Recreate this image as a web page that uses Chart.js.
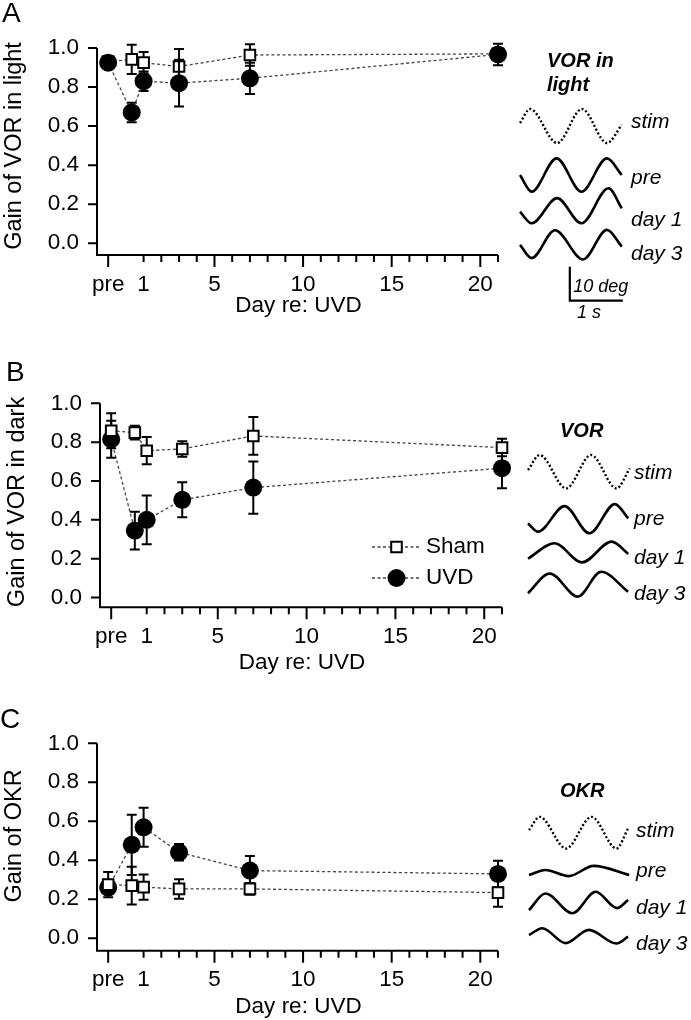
<!DOCTYPE html>
<html>
<head>
<meta charset="utf-8">
<script src="https://cdn.jsdelivr.net/npm/chart.js@4.4.1/dist/chart.umd.min.js"></script>
<style>
  body { margin: 0; background: #fff; }
  #page { position: relative; width: 691px; height: 1020px; overflow: hidden;
    font-family: "Liberation Sans", Arial, Helvetica, sans-serif; }
  canvas { position: absolute; }
  .txt { position: absolute; line-height: 1; white-space: nowrap; color: #000; }
</style>
</head>
<body>
<div id="page"></div>
<script>
// days re: UVD ("pre" is plotted at day -1)
const days = [-1, 0.33, 1, 3, 7, 21]
const dayTicks = [-1, 1, 2, 3, 4, 5, 6, 7, 8, 9, 10, 11, 12, 13, 14, 15, 16, 17, 18, 19, 20, 21]
const dayMajorTicks = [-1, 5, 10, 15, 20]
const dayTickLabels = { "-1": "pre", 1: "1", 5: "5", 10: "10", 15: "15", 20: "20" }
const gainTicks = [0, 0.2, 0.4, 0.6, 0.8, 1.0]

// A: VOR in light
const lightUVD = [0.925, 0.67, 0.83, 0.82, 0.845, 0.967]
const lightUVDErr = [0.02, 0.05, 0.05, 0.12, 0.08, 0.055]
const lightSham = [0.93, 0.942, 0.925, 0.905, 0.964, 0.97]
const lightShamErr = [0.02, 0.075, 0.055, 0.09, 0.055, 0.03]

// B: VOR in dark
const darkUVD = [0.815, 0.345, 0.40, 0.503, 0.566, 0.666]
const darkUVDErr = [0.095, 0.097, 0.125, 0.09, 0.135, 0.103]
const darkSham = [0.859, 0.849, 0.756, 0.765, 0.832, 0.772]
const darkShamErr = [0.09, 0.035, 0.07, 0.04, 0.097, 0.045]

// C: OKR
const okrUVD = [0.26, 0.479, 0.569, 0.441, 0.347, 0.33]
const okrUVDErr = [0.03, 0.155, 0.1, 0.042, 0.075, 0.068]
const okrSham = [0.275, 0.27, 0.262, 0.253, 0.253, 0.234]
const okrShamErr = [0.065, 0.097, 0.065, 0.05, 0.03, 0.072]

// example traces, [time (s), position (deg)] read at start, peaks, troughs, end
const traceNames = ["stim", "pre", "day 1", "day 3"]
const lightStim = [[0, 0.9], [0.19, 5.0], [0.70, -5.0], [1.17, 5.0], [1.64, -5.0], [1.92, 0.3]]
const lightPre = [[0, 0], [0.22, -4.9], [0.69, 4.9], [1.16, -4.9], [1.64, 4.9], [1.92, 0]]
const lightDay1 = [[0, -1.4], [0.22, -4.8], [0.70, 2.6], [1.16, -4.8], [1.67, 5.5], [1.92, -0.4]]
const lightDay3 = [[0, -0.1], [0.22, -4.0], [0.66, 4.2], [1.19, -4.4], [1.64, 4.3], [1.92, -0.6]]
const darkStim = [[0, 0.5], [0.22, 4.9], [0.72, -4.9], [1.19, 4.9], [1.67, -4.9], [1.92, 1.0]]
const darkPre = [[0, -1.4], [0.19, -3.8], [0.69, 3.7], [1.16, -4.3], [1.64, 4.3], [1.89, 0.1]]
const darkDay1 = [[0, -1.8], [0.5, 2.7], [1.02, -2.9], [1.58, 3.2], [1.89, -0.4]]
const darkDay3 = [[0, -2.7], [0.41, 3.1], [0.94, -3.7], [1.38, 3.6], [1.89, -2.3]]
const okrStim = [[0, 0.7], [0.2, 4.6], [0.7, -4.7], [1.18, 4.6], [1.65, -4.7], [1.87, 1.2]]
const okrPre = [[0, -1.2], [0.31, 0.3], [0.75, -1.5], [1.22, 1.5], [1.89, -1.2]]
const okrDay1 = [[0, -2.4], [0.31, 2.5], [0.82, -3.3], [1.26, 3.0], [1.66, -1.8], [1.87, 0.6]]
const okrDay3 = [[0, 0.3], [0.25, 2.3], [0.69, -2.1], [1.13, 1.8], [1.65, -2.2], [1.87, -0.2]]
// calibration: 10 deg, 1 s
const scaleBar = [[0, 10], [0, 0], [1, 0]]

const family = '"Liberation Sans", Arial, Helvetica, sans-serif'
Chart.defaults.font.family = family
const page = document.getElementById("page")
const W = 520, H = 340
const secPx = 53, degPx = 3.4

const panels = [
  { top: 0, left: 97, right: 498, plotTop: 48, bottom: 255, yMin: -0.06,
    yTitle: "Gain of VOR in light", yTitleAt: [15, 146], xTitleY: 306,
    uvd: lightUVD, uvdErr: lightUVDErr, sham: lightSham, shamErr: lightShamErr, squaresOnTop: false,
    traces: [lightStim, lightPre, lightDay1, lightDay3], traceStart: 520, rows: [126, 175, 207, 244.5],
    bar: { t: 0.94, row: 300.7 } },
  { top: 340, left: 100, right: 502, plotTop: 63.3, bottom: 267.3, yMin: -0.05,
    yTitle: "Gain of VOR in dark", yTitleAt: [18, 162], xTitleY: 323,
    uvd: darkUVD, uvdErr: darkUVDErr, sham: darkSham, shamErr: darkShamErr, squaresOnTop: true,
    legend: { lineFrom: 372, lineTo: 421, textX: 426, rows: [207, 238] },
    traces: [darkStim, darkPre, darkDay1, darkDay3], traceStart: 528, rows: [131.7, 178.7, 212.5, 244] },
  { top: 680, left: 97, right: 498, plotTop: 63.3, bottom: 270.7, yMin: -0.064,
    yTitle: "Gain of OKR", yTitleAt: [15, 156], xTitleY: 327,
    uvd: okrUVD, uvdErr: okrUVDErr, sham: okrSham, shamErr: okrShamErr, squaresOnTop: true,
    traces: [okrStim, okrPre, okrDay1, okrDay3], traceStart: 529, rows: [152.5, 191, 222, 256] },
]

// axis lines, tick marks and axis titles
const axesPlugin = {
  id: "axes",
  beforeDatasetsDraw(chart, args, opts) {
    const { ctx, chartArea: a, scales: { x, y } } = chart
    ctx.save()
    ctx.strokeStyle = "#000"
    ctx.lineWidth = 2
    ctx.beginPath()
    ctx.moveTo(a.left, y.getPixelForValue(gainTicks[gainTicks.length - 1]))
    ctx.lineTo(a.left, a.bottom)
    ctx.lineTo(a.right, a.bottom)
    gainTicks.forEach((v) => {
      const py = y.getPixelForValue(v)
      ctx.moveTo(a.left, py)
      ctx.lineTo(a.left - 9, py)
    })
    dayTicks.forEach((v) => {
      const px = x.getPixelForValue(v)
      ctx.moveTo(px, a.bottom)
      ctx.lineTo(px, a.bottom + (dayMajorTicks.includes(v) ? 12 : 7))
    })
    ctx.stroke()
    ctx.fillStyle = "#000"
    ctx.textAlign = "center"
    ctx.textBaseline = "middle"
    ctx.font = `22.5px ${family}`
    ctx.fillText("Day re: UVD", (a.left + a.right) / 2 + 1, opts.xTitleY)
    ctx.translate(opts.yTitleAt[0], opts.yTitleAt[1])
    ctx.rotate(-Math.PI / 2)
    ctx.font = `23.5px ${family}`
    ctx.fillText(opts.yTitle, 0, 0)
    ctx.restore()
  },
}

// mean +/- error bars, drawn just under each dataset
const errorBarPlugin = {
  id: "errorBars",
  beforeDatasetDraw(chart, args) {
    const ds = chart.data.datasets[args.index]
    if (!ds.errors) return
    const { ctx, scales: { x, y } } = chart
    ctx.save()
    ctx.strokeStyle = "#000"
    ctx.lineWidth = 2
    ds.data.forEach((pt, i) => {
      const px = x.getPixelForValue(pt.x)
      const hi = y.getPixelForValue(pt.y + ds.errors[i])
      const lo = y.getPixelForValue(pt.y - ds.errors[i])
      ctx.beginPath()
      ctx.moveTo(px, hi)
      ctx.lineTo(px, lo)
      ctx.moveTo(px - 5, hi)
      ctx.lineTo(px + 5, hi)
      ctx.moveTo(px - 5, lo)
      ctx.lineTo(px + 5, lo)
      ctx.stroke()
    })
    ctx.restore()
  },
}

// legend inside the plot of panel B
const legendPlugin = {
  id: "inlineLegend",
  afterDatasetsDraw(chart, args, opts) {
    if (!opts.rows) return
    const { ctx } = chart
    chart.data.datasets.forEach((ds, i) => {
      const yy = opts.rows[i]
      ctx.save()
      ctx.strokeStyle = ds.borderColor
      ctx.lineWidth = ds.borderWidth
      ctx.setLineDash(ds.borderDash)
      ctx.beginPath()
      ctx.moveTo(opts.lineFrom, yy)
      ctx.lineTo(opts.lineTo, yy)
      ctx.stroke()
      ctx.restore()
      ctx.save()
      ctx.fillStyle = ds.pointBackgroundColor
      ctx.strokeStyle = ds.pointBorderColor
      ctx.lineWidth = ds.pointBorderWidth
      Chart.helpers.drawPoint(ctx, { pointStyle: ds.pointStyle, radius: ds.pointRadius,
        borderWidth: ds.pointBorderWidth, rotation: 0 }, (opts.lineFrom + opts.lineTo) / 2, yy)
      ctx.restore()
      ctx.save()
      ctx.fillStyle = "#000"
      ctx.font = `22.5px ${family}`
      ctx.textBaseline = "middle"
      ctx.fillText(ds.label, opts.textX, yy)
      ctx.restore()
    })
  },
}

function addCanvas(left, top, w, h) {
  const c = document.createElement("canvas")
  c.width = w
  c.height = h
  c.style.left = left + "px"
  c.style.top = top + "px"
  page.appendChild(c)
  return c.getContext("2d")
}

function addText(str, x, baseline, size, style) {
  const d = document.createElement("div")
  d.className = "txt"
  d.textContent = str
  d.style.left = x + "px"
  d.style.top = baseline - 0.8465 * size + "px"
  d.style.fontSize = size + "px"
  if (style) d.style.cssText += style
  page.appendChild(d)
}

function gainChart(p) {
  const ctx = addCanvas(0, p.top, W, H)
  const tickFont = { size: 22.5, family }
  new Chart(ctx, {
    type: "line",
    data: {
      datasets: [
        {
          label: "Sham",
          data: days.map((d, i) => ({ x: d, y: p.sham[i] })),
          errors: p.shamErr,
          pointStyle: "rect",
          pointRadius: 7.5,
          pointBackgroundColor: "#fff",
          pointBorderColor: "#000",
          pointBorderWidth: 2,
          borderColor: "#444",
          borderWidth: 1.3,
          borderDash: [3, 2.5],
          order: p.squaresOnTop ? 0 : 1,
          clip: false,
        },
        {
          label: "UVD",
          data: days.map((d, i) => ({ x: d, y: p.uvd[i] })),
          errors: p.uvdErr,
          pointStyle: "circle",
          pointRadius: 9,
          pointBackgroundColor: "#000",
          pointBorderColor: "#000",
          pointBorderWidth: 0,
          borderColor: "#444",
          borderWidth: 1.3,
          borderDash: [3, 2.5],
          order: p.squaresOnTop ? 1 : 0,
          clip: false,
        },
      ],
    },
    options: {
      responsive: false,
      animation: false,
      devicePixelRatio: 1,
      layout: { padding: { left: 0, top: p.plotTop, right: W - p.right, bottom: 0 } },
      scales: {
        x: {
          type: "linear",
          min: -1.63,
          max: 21,
          afterBuildTicks: (s) => { s.ticks = dayTicks.map((v) => ({ value: v })) },
          afterFit: (s) => { s.height = H - p.bottom },
          grid: { display: false, drawTicks: false },
          border: { display: false },
          ticks: {
            autoSkip: false,
            maxRotation: 0,
            padding: 16,
            color: "#000",
            font: tickFont,
            callback: (v) => dayTickLabels[v] ?? "",
          },
        },
        y: {
          min: p.yMin,
          max: 1.0,
          afterBuildTicks: (s) => { s.ticks = gainTicks.map((v) => ({ value: v })) },
          afterFit: (s) => { s.width = p.left },
          grid: { display: false, drawTicks: false },
          border: { display: false },
          ticks: { padding: 18, color: "#000", font: tickFont, callback: (v) => v.toFixed(1) },
        },
      },
      plugins: {
        legend: { display: false },
        tooltip: { enabled: false },
        axes: { yTitle: p.yTitle, yTitleAt: p.yTitleAt, xTitleY: p.xTitleY },
        inlineLegend: p.legend || {},
      },
    },
    plugins: [axesPlugin, errorBarPlugin, legendPlugin],
  })
}

function traceChart(p) {
  const left = p.traceStart - 10
  const w = 691 - left
  const ctx = addCanvas(left, p.top, w, H)
  const datasets = p.traces.map((tr, i) => ({
    data: tr.map(([t, deg]) => ({ x: t, y: deg - p.rows[i] / degPx })),
    borderColor: "#000",
    borderWidth: i === 0 ? 2.4 : 2.6,
    borderDash: i === 0 ? [2, 2.2] : [],
    cubicInterpolationMode: "monotone",
    pointRadius: 0,
    clip: false,
  }))
  if (p.bar) {
    datasets.push({
      data: scaleBar.map(([t, deg]) => ({ x: p.bar.t + t, y: deg - p.bar.row / degPx })),
      borderColor: "#000",
      borderWidth: 2.2,
      pointRadius: 0,
      tension: 0,
      clip: false,
    })
  }
  new Chart(ctx, {
    type: "line",
    data: { datasets },
    options: {
      responsive: false,
      animation: false,
      devicePixelRatio: 1,
      layout: { padding: 0 },
      scales: {
        x: { type: "linear", display: false, min: -10 / secPx, max: (w - 10) / secPx },
        y: { display: false, min: -H / degPx, max: 0 },
      },
      plugins: { legend: { display: false }, tooltip: { enabled: false } },
    },
  })
}

panels.forEach((p) => {
  gainChart(p)
  traceChart(p)
})

// panel letters
addText("A", 2, 23, 28)
addText("B", 6, 381.7, 28)
addText("C", 0, 728.3, 28)

// trace titles and names
const bi = "font-weight:bold;font-style:italic;"
const it = "font-style:italic;"
addText("VOR in", 547, 67, 20, bi)
addText("light", 547, 90.7, 20, bi)
addText("VOR", 560, 437.3, 20, bi)
addText("OKR", 560, 796.7, 20, bi)
const nameX = [631, 634, 636]
const nameBaselines = [[128, 184, 226, 260], [478.3, 525, 563.3, 600], [836.7, 876.7, 913.3, 950]]
nameBaselines.forEach((rows, k) => {
  rows.forEach((b, i) => addText(traceNames[i], nameX[k], b, 21, it))
})
addText("10 deg", 573.3, 292.7, 18, it)
addText("1 s", 577, 318.3, 18, it)
</script>
</body>
</html>
